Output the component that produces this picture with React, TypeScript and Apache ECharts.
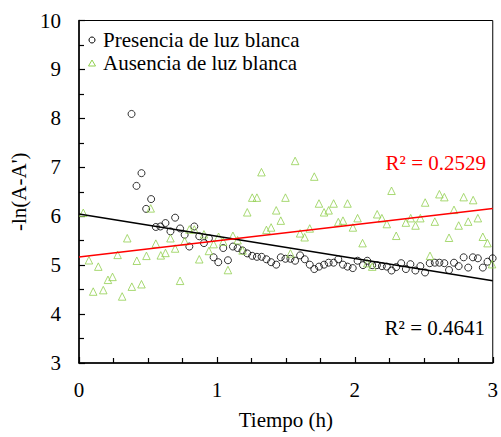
import React, { useEffect, useRef } from "react";
import * as echarts from "echarts";

const xTicks = [0, 1, 2, 3];
const yTicks = [3, 4, 5, 6, 7, 8, 9, 10];

const seriesNames = ["Presencia de luz blanca", "Ausencia de luz blanca"];

const presX = [
  0.381, 0.417, 0.453, 0.487, 0.523, 0.557, 0.59, 0.627, 0.663, 0.697, 0.733, 0.766, 0.8, 0.836, 0.872,
  0.906, 0.942, 0.976, 1.01, 1.046, 1.08, 1.116, 1.15, 1.186, 1.22, 1.256, 1.29, 1.324, 1.359, 1.393,
  1.43, 1.463, 1.497, 1.533, 1.567, 1.603, 1.637, 1.673, 1.706, 1.74, 1.777, 1.81, 1.846, 1.88, 1.914,
  1.947, 1.985, 2.02, 2.059, 2.09, 2.126, 2.16, 2.196, 2.232, 2.266, 2.3, 2.336, 2.37, 2.403, 2.439,
  2.475, 2.509, 2.543, 2.58, 2.613, 2.649, 2.683, 2.719, 2.753, 2.789, 2.822, 2.856, 2.892, 2.928,
  2.962, 2.999,
];
const presY = [
  8.09, 6.62, 6.88, 6.15, 6.35, 5.78, 5.79, 5.86, 5.69, 5.97, 5.75, 5.62, 5.38, 5.79, 5.59,
  5.45, 5.55, 5.16, 5.06, 5.35, 5.1, 5.38, 5.35, 5.3, 5.24, 5.19, 5.17, 5.17, 5.12, 5.06,
  5.01, 5.16, 5.13, 5.13, 5.09, 5.2, 5.12, 5.01, 4.92, 4.97, 5.01, 5.05, 5.05, 5.12, 5.01,
  4.97, 4.94, 5.09, 5.0, 5.09, 5.0, 5.0, 4.98, 4.97, 4.89, 4.96, 5.04, 4.92, 5.02, 4.89,
  4.98, 4.85, 5.04, 5.05, 5.05, 5.04, 4.9, 5.05, 4.98, 5.16, 4.95, 5.16, 5.14, 4.95,
  5.07, 5.14,
];

const ausX = [
  0.031, 0.072, 0.103, 0.14, 0.176, 0.21, 0.243, 0.28, 0.313, 0.35, 0.383, 0.419, 0.453, 0.489, 0.52,
  0.557, 0.593, 0.627, 0.663, 0.697, 0.733, 0.766, 0.8, 0.836, 0.872, 0.906, 0.942, 0.976, 1.012, 1.046,
  1.08, 1.116, 1.15, 1.186, 1.22, 1.256, 1.29, 1.323, 1.359, 1.393, 1.43, 1.463, 1.497, 1.533, 1.567,
  1.603, 1.636, 1.673, 1.706, 1.74, 1.777, 1.81, 1.846, 1.88, 1.914, 1.947, 1.986, 2.02, 2.056, 2.09,
  2.126, 2.162, 2.196, 2.232, 2.266, 2.3, 2.37, 2.405, 2.44, 2.475, 2.51, 2.545, 2.58, 2.613, 2.649,
  2.683, 2.719, 2.753, 2.789, 2.822, 2.858, 2.892, 2.928, 2.962, 2.995,
];
const ausY = [
  6.07, 5.1, 4.46, 4.97, 4.49, 4.7, 4.76, 5.21, 4.36, 5.55, 4.56, 5.09, 4.61, 5.19, 6.16,
  5.44, 5.2, 5.25, 5.55, 5.34, 4.68, 5.49, 5.73, 5.73, 5.12, 5.63, 5.29, 5.43, 5.58, 5.48,
  4.9, 5.6, 5.51, 5.3, 6.08, 6.38, 6.38, 6.9, 5.72, 5.77, 6.12, 5.91, 6.38, 5.24, 7.13,
  5.65, 5.57, 5.75, 6.81, 6.26, 6.08, 6.12, 6.26, 5.88, 5.91, 6.26, 5.77, 5.96, 5.45, 5.04,
  4.97, 6.04, 5.96, 5.84, 6.52, 5.6, 5.87, 5.96, 5.81, 5.96, 6.28, 5.19, 5.89, 6.45, 6.39,
  5.56, 6.13, 5.81, 6.39, 5.89, 6.33, 5.96, 5.58, 5.45, 5.02,
];

// trend line end points
const trendPresX = [0, 3];
const trendPresY = [6.045, 4.68];
const trendAusX = [0, 3];
const trendAusY = [5.165, 6.16];

const r2Labels = ["R² = 0.4641", "R² = 0.2529"];

const FONT = "Liberation Serif";
const GREEN = "#92D050";

export default function App() {
  const ref = useRef<HTMLDivElement>(null);

  useEffect(() => {
    document.body.style.margin = "0";
    if (!ref.current) return;
    const chart = echarts.init(ref.current, undefined, { renderer: "svg" });
    const zip = (xs: number[], ys: number[]) => xs.map((x, i) => [x, ys[i]]);

    const textStyle = (text: string, fill: string, align: string) => ({
      text,
      fill,
      fontFamily: FONT,
      fontSize: 21,
      align,
      verticalAlign: "middle",
      textAlign: align,
      textVerticalAlign: "middle",
    });

    chart.setOption({
      animation: false,
      backgroundColor: "#fff",
      textStyle: { fontFamily: FONT, color: "#000" },
      grid: {
        left: 79,
        right: 7,
        top: 20.5,
        bottom: 74,
        show: true,
        borderColor: "#000",
        borderWidth: 1,
        containLabel: false,
      },
      xAxis: {
        type: "value",
        min: xTicks[0],
        max: xTicks[xTicks.length - 1],
        interval: 1,
        name: "Tiempo (h)",
        nameLocation: "middle",
        nameGap: 46,
        nameTextStyle: { fontFamily: FONT, fontSize: 21, color: "#000" },
        axisLine: { show: true, onZero: false, lineStyle: { color: "#000", width: 1.5 } },
        axisTick: { show: true, inside: true, length: 6, lineStyle: { color: "#000", width: 1.2 } },
        minorTick: { show: true, splitNumber: 4, length: 5, lineStyle: { color: "#000", width: 1.2 } },
        axisLabel: { fontFamily: FONT, fontSize: 21, color: "#000", margin: 16 },
        splitLine: { show: false },
      },
      yAxis: {
        type: "value",
        min: yTicks[0],
        max: yTicks[yTicks.length - 1],
        interval: 1,
        name: "-ln(A-A')",
        nameLocation: "middle",
        nameRotate: 90,
        nameGap: 47,
        nameTextStyle: { fontFamily: FONT, fontSize: 21, color: "#000" },
        axisLine: { show: true, onZero: false, lineStyle: { color: "#000", width: 1.5 } },
        axisTick: { show: true, inside: true, length: 6, lineStyle: { color: "#000", width: 1.2 } },
        minorTick: { show: true, splitNumber: 2, length: 5, lineStyle: { color: "#000", width: 1.2 } },
        axisLabel: { fontFamily: FONT, fontSize: 21, color: "#000", margin: 18 },
        splitLine: { show: false },
      },
      series: [
        {
          name: seriesNames[0],
          type: "scatter",
          symbol: "circle",
          symbolSize: 7,
          itemStyle: { color: "rgba(255,255,255,0)", borderColor: "#000", borderWidth: 1 },
          data: zip(presX, presY),
          z: 3,
        },
        {
          name: seriesNames[1],
          type: "scatter",
          symbol: "triangle",
          symbolSize: 7.5,
          itemStyle: { color: "rgba(255,255,255,0)", borderColor: GREEN, borderWidth: 1 },
          data: zip(ausX, ausY),
          z: 4,
        },
        {
          name: "trendPres",
          type: "line",
          showSymbol: false,
          symbol: "none",
          lineStyle: { color: "#000", width: 1.5 },
          data: zip(trendPresX, trendPresY),
          z: 5,
        },
        {
          name: "trendAus",
          type: "line",
          showSymbol: false,
          symbol: "none",
          lineStyle: { color: "#ff0000", width: 1.5 },
          data: zip(trendAusX, trendAusY),
          z: 5,
        },
      ],
      graphic: [
        // legend
        {
          type: "circle",
          shape: { cx: 92, cy: 40, r: 3 },
          style: { fill: "none", stroke: "#000", lineWidth: 1 },
          z: 10,
        },
        { type: "text", x: 103, y: 40, style: textStyle(seriesNames[0], "#000", "left"), z: 10 },
        {
          type: "polygon",
          shape: { points: [[92, 60], [88.5, 66], [95.5, 66]] },
          style: { fill: "none", stroke: GREEN, lineWidth: 1 },
          z: 10,
        },
        { type: "text", x: 103, y: 63, style: textStyle(seriesNames[1], "#000", "left"), z: 10 },
        // R² labels
        { type: "text", x: 486, y: 163, style: textStyle(r2Labels[1], "#ff0000", "right"), z: 10 },
        { type: "text", x: 485, y: 328, style: textStyle(r2Labels[0], "#000", "right"), z: 10 },
      ],
    });
    return () => chart.dispose();
  }, []);

  return <div ref={ref} style={{ width: 501, height: 437 }} />;
}
